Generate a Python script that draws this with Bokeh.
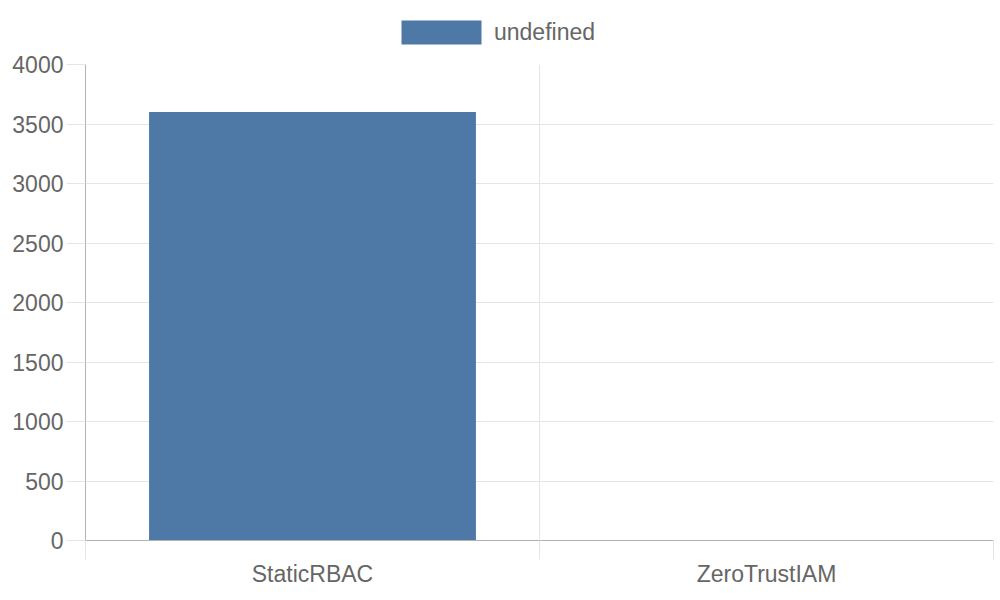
from bokeh.plotting import figure
from bokeh.layouts import column
from bokeh.models import ColumnDataSource, FixedTicker, Legend, LegendItem, Range1d
from bokeh.embed import file_html
from bokeh.resources import INLINE

categories = ["StaticRBAC", "ZeroTrustIAM"]
values = [3600, 4]
series_name = "undefined"
y_ticks = [0, 500, 1000, 1500, 2000, 2500, 3000, 3500, 4000]

FONT = "Liberation Sans"
TXT = "#666666"
GRID = "#e5e5e5"
AXIS = "#b3b3b3"
BAR = "#4e79a7"

n = len(categories)
centers = [i + 0.5 for i in range(n)]
src = ColumnDataSource(dict(x=centers, top=values, cat=categories))

# ---- header strip holding the legend (its bars lie below its visible range) ----
head = figure(width=995, height=52, output_backend="svg", toolbar_location=None,
              x_range=Range1d(0, n), y_range=Range1d(5000, 6000),
              x_axis_type=None, y_axis_type=None,
              min_border_left=0, min_border_right=0, min_border_top=0, min_border_bottom=0)
head.outline_line_color = None
head.background_fill_color = "white"
head.border_fill_color = "white"
head.grid.visible = False
hr = head.vbar(x="x", top="top", width=0.72, source=src, fill_color=BAR, line_color=None)
legend = Legend(items=[LegendItem(label=series_name, renderers=[hr])],
                location=(306, 5), orientation="horizontal",
                glyph_width=100, glyph_height=30, label_standoff=3, label_height=24,
                label_text_font=FONT, label_text_font_size="23px", label_text_color=TXT,
                padding=0, margin=0, border_line_color=None, background_fill_alpha=0)
head.add_layout(legend, "center")

# ---- main chart ----
p = figure(width=995, height=544, output_backend="svg", toolbar_location=None,
           x_range=Range1d(0, n), y_range=Range1d(0, 4000),
           min_border_left=85, min_border_right=2, min_border_top=12, min_border_bottom=56)
p.outline_line_color = None
p.background_fill_color = "white"
p.border_fill_color = "white"

p.vbar(x="x", top="top", width=0.72, source=src, fill_color=BAR, line_color=None)

# y axis
p.yaxis.ticker = FixedTicker(ticks=y_ticks)
p.yaxis.major_tick_out = 19
p.yaxis.major_tick_in = 0
p.yaxis.minor_tick_line_color = None
p.yaxis.major_tick_line_color = GRID
p.yaxis.axis_line_color = AXIS
p.yaxis.major_label_standoff = 3
p.yaxis.major_label_text_font = FONT
p.yaxis.major_label_text_font_size = "23px"
p.yaxis.major_label_text_color = TXT
p.ygrid.ticker = FixedTicker(ticks=y_ticks)
p.ygrid.grid_line_color = GRID

# x axis: labels at centers, ticks/grid at category boundaries
bounds = list(range(n + 1))
p.xaxis.ticker = FixedTicker(ticks=centers, minor_ticks=bounds)
p.xaxis.major_label_overrides = {c: lab for c, lab in zip(centers, categories)}
p.xaxis.major_tick_line_color = None
p.xaxis.major_tick_out = 0
p.xaxis.major_tick_in = 0
p.xaxis.minor_tick_out = 19
p.xaxis.minor_tick_in = 0
p.xaxis.minor_tick_line_color = GRID
p.xaxis.axis_line_color = AXIS
p.xaxis.major_label_standoff = 1
p.xaxis.major_label_text_font = FONT
p.xaxis.major_label_text_font_size = "23px"
p.xaxis.major_label_text_color = TXT
p.xgrid.ticker = FixedTicker(ticks=bounds)
p.xgrid.grid_line_color = GRID

layout = column(head, p, spacing=0)
open("out.html", "w").write(file_html(layout, INLINE))
